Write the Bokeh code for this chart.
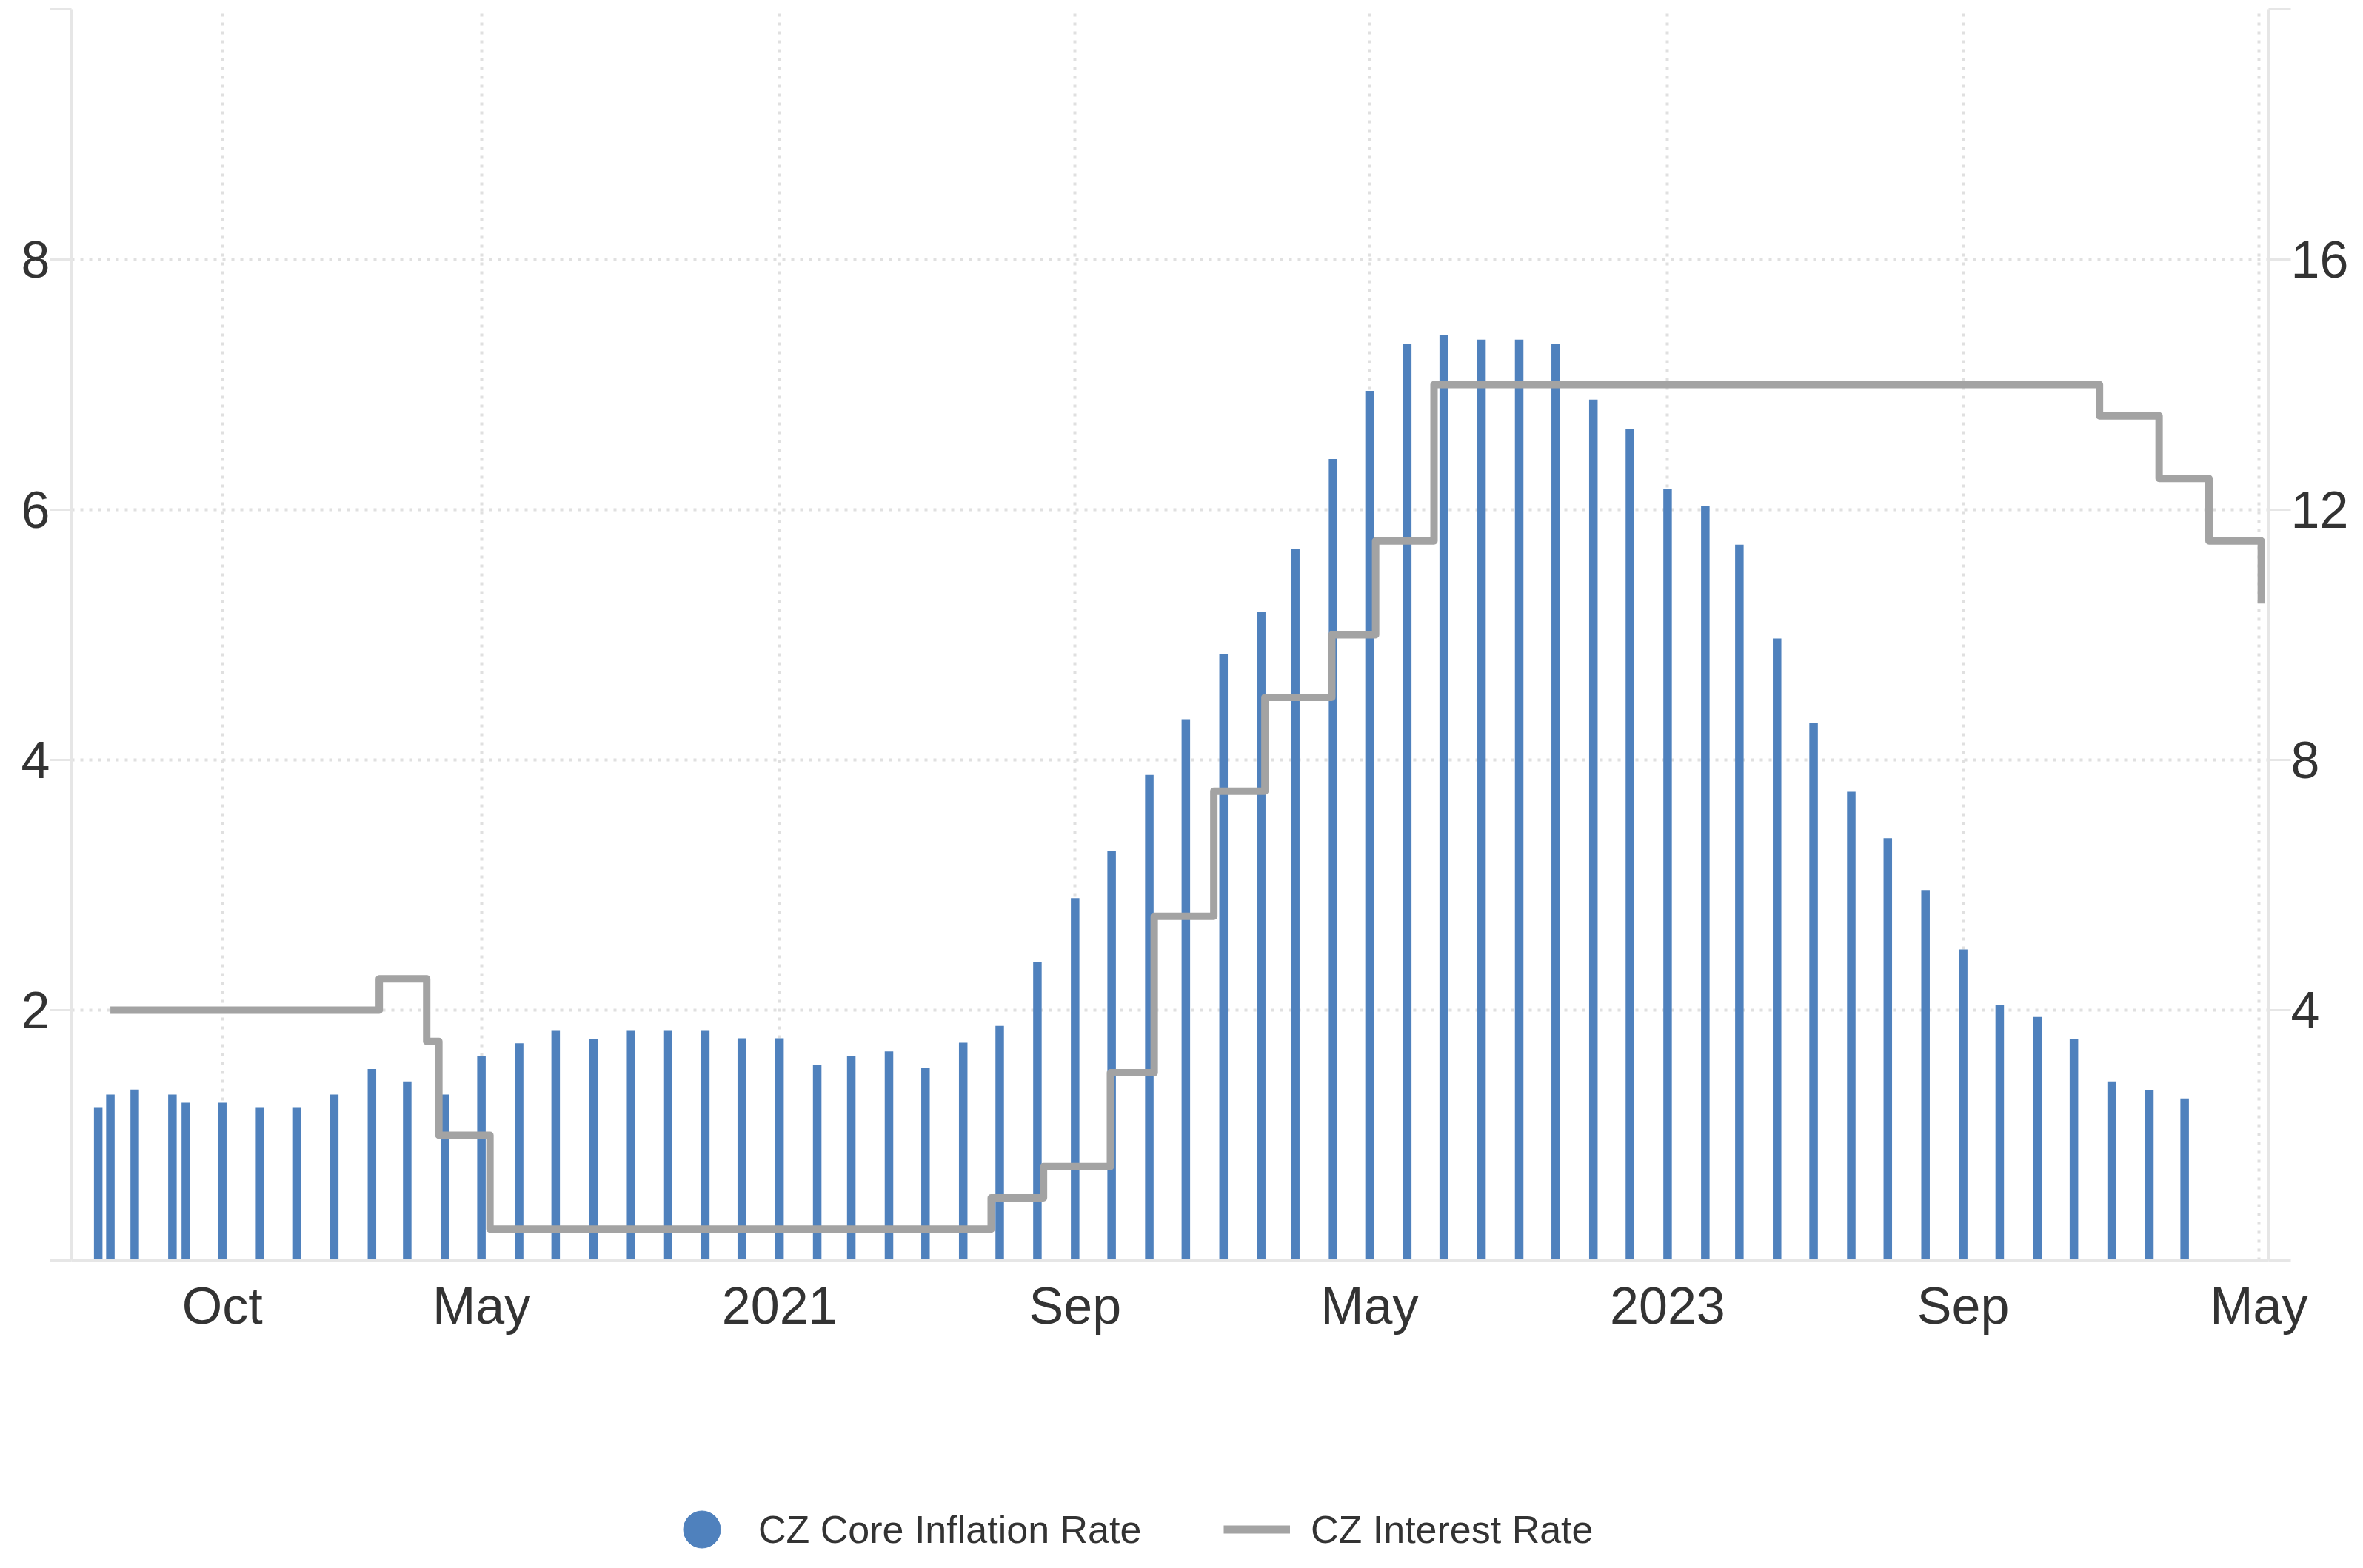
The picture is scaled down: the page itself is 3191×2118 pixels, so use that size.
import numpy as np
from bokeh.plotting import figure
from bokeh.layouts import column
from bokeh.models import Range1d, LinearAxis, FixedTicker, Legend, LegendItem
from bokeh.embed import file_html
from bokeh.resources import INLINE

# ---- data ----
core_dates = ["2019-06-21", "2019-07-01", "2019-07-21", "2019-08-21", "2019-09-01",
              "2019-10-01", "2019-11-01", "2019-12-01", "2020-01-01", "2020-02-01",
              "2020-03-01", "2020-04-01", "2020-05-01", "2020-06-01", "2020-07-01",
              "2020-08-01", "2020-09-01", "2020-10-01", "2020-11-01", "2020-12-01",
              "2021-01-01", "2021-02-01", "2021-03-01", "2021-04-01", "2021-05-01",
              "2021-06-01", "2021-07-01", "2021-08-01", "2021-09-01", "2021-10-01",
              "2021-11-01", "2021-12-01", "2022-01-01", "2022-02-01", "2022-03-01",
              "2022-04-01", "2022-05-01", "2022-06-01", "2022-07-01", "2022-08-01",
              "2022-09-01", "2022-10-01", "2022-11-01", "2022-12-01", "2023-01-01",
              "2023-02-01", "2023-03-01", "2023-04-01", "2023-05-01", "2023-06-01",
              "2023-07-01", "2023-08-01", "2023-09-01", "2023-10-01", "2023-11-01",
              "2023-12-01", "2024-01-01", "2024-02-01", "2024-03-01"]
core_values = [2.45, 2.65, 2.73, 2.65, 2.52,
               2.52, 2.45, 2.45, 2.65, 3.06,
               2.86, 2.65, 3.27, 3.47, 3.68,
               3.54, 3.68, 3.68, 3.68, 3.55,
               3.55, 3.13, 3.27, 3.34, 3.07,
               3.48, 3.75, 4.77, 5.79, 6.54,
               7.76, 8.65, 9.69, 10.37, 11.38,
               12.81, 13.9, 14.65, 14.79, 14.72,
               14.72, 14.65, 13.76, 13.29, 12.33,
               12.06, 11.44, 9.94, 8.59, 7.49,
               6.75, 5.92, 4.97, 4.09, 3.89,
               3.54, 2.86, 2.72, 2.59]

rate_dates = ["2019-07-01", "2020-02-07", "2020-03-17", "2020-03-27", "2020-05-08",
              "2021-06-24", "2021-08-06", "2021-09-30", "2021-11-05", "2021-12-24",
              "2022-02-04", "2022-03-31", "2022-05-06", "2022-06-23", "2023-12-22",
              "2024-02-09", "2024-03-21", "2024-05-03"]
rate_values = [2.00, 2.25, 1.75, 1.00, 0.25,
               0.50, 0.75, 1.50, 2.75, 3.75,
               4.50, 5.00, 5.75, 7.00, 6.75,
               6.25, 5.75, 5.25]

tick_dates = ["2019-10-01", "2020-05-01", "2021-01-01", "2021-09-01",
              "2022-05-01", "2023-01-01", "2023-09-01", "2024-05-01"]
tick_labels = ["Oct", "May", "2021", "Sep", "May", "2023", "Sep", "May"]

left_ticks = [0, 2, 4, 6, 8, 10]
right_ticks = [0, 4, 8, 12, 16, 20]

series_names = ["CZ Core Inflation Rate", "CZ Interest Rate"]


def ms(s):
    return float((np.datetime64(s, "ms") - np.datetime64("1970-01-01", "ms")).astype(np.int64))


BLUE = "#4f81bd"
GRAY = "#a3a3a3"
GRID = "#e0e0e0"
AXIS = "#e6e6e6"
TEXT = "#333333"
FONT = "Liberation Sans"

W = 3175
H_MAIN = 1830
H_LEG = 272
B_LEFT = 96
B_RIGHT = 112

p = figure(width=W, height=H_MAIN, x_axis_type="datetime",
           x_range=Range1d(ms("2019-05-30"), ms("2024-05-09")),
           y_range=Range1d(0, 10),
           output_backend="svg", toolbar_location=None,
           min_border_left=B_LEFT, min_border_right=B_RIGHT,
           min_border_top=12, min_border_bottom=H_MAIN - 12 - 1690)
p.extra_y_ranges = {"right": Range1d(0, 20)}
p.outline_line_color = None
p.background_fill_color = "white"
p.border_fill_color = "white"

# bars: core inflation on the right axis
p.vbar(x=[ms(d) for d in core_dates], top=core_values, bottom=0,
       width=7 * 86400000, y_range_name="right",
       fill_color=BLUE, line_color=None)

# interest rate step line on the left axis
p.step(x=[ms(d) for d in rate_dates], y=rate_values, mode="after",
       line_color=GRAY, line_width=10, line_join="round")

# x axis
xa = p.xaxis[0]
xa.ticker = FixedTicker(ticks=[ms(d) for d in tick_dates])
xa.major_label_overrides = {ms(d): lab for d, lab in zip(tick_dates, tick_labels)}
xa.axis_line_color = AXIS
xa.axis_line_width = 4
xa.major_tick_out = 0
xa.major_tick_in = 0
xa.minor_tick_out = 0
xa.minor_tick_in = 0
xa.major_label_standoff = 22
xa.major_label_text_font = FONT
xa.major_label_text_font_size = "70px"
xa.major_label_text_color = TEXT

# left axis
ya = p.yaxis[0]
ya.ticker = FixedTicker(ticks=left_ticks)
ya.major_label_overrides = {0: "", 10: ""}
ya.axis_line_color = AXIS
ya.axis_line_width = 4
ya.major_tick_line_color = AXIS
ya.major_tick_line_width = 3
ya.major_tick_out = 29
ya.major_tick_in = 0
ya.minor_tick_out = 0
ya.minor_tick_in = 0
ya.major_label_standoff = 0
ya.major_label_text_font = FONT
ya.major_label_text_font_size = "70px"
ya.major_label_text_color = TEXT

# right axis
ra = LinearAxis(y_range_name="right", ticker=FixedTicker(ticks=right_ticks))
ra.major_label_overrides = {0: "", 20: ""}
ra.axis_line_color = AXIS
ra.axis_line_width = 4
ra.major_tick_line_color = AXIS
ra.major_tick_line_width = 3
ra.major_tick_out = 30
ra.major_tick_in = 0
ra.minor_tick_out = 0
ra.minor_tick_in = 0
ra.major_label_standoff = 0
ra.major_label_text_font = FONT
ra.major_label_text_font_size = "70px"
ra.major_label_text_color = TEXT
p.add_layout(ra, "right")

# grids
for g in (p.xgrid[0], p.ygrid[0]):
    g.grid_line_color = GRID
    g.grid_line_width = 4
    g.grid_line_dash = "4 8"

# ---- legend strip (its own figure so nothing gets clipped) ----
lf = figure(width=W, height=H_LEG, x_range=Range1d(0, 1), y_range=Range1d(0, 1),
            output_backend="svg", toolbar_location=None,
            x_axis_location=None, y_axis_location=None,
            min_border_left=B_LEFT, min_border_right=B_RIGHT,
            min_border_top=0, min_border_bottom=0)
lf.outline_line_color = None
lf.xgrid.visible = False
lf.ygrid.visible = False
lf.background_fill_color = "white"
lf.border_fill_color = "white"

# legend-only renderers: their single point lies outside the strip's view
dummy_c = lf.scatter(x=[5], y=[5], marker="circle", fill_color=BLUE, line_color=BLUE)
dummy_l = lf.line(x=[5, 6], y=[5, 5], line_color=GRAY, line_width=11)

common = dict(border_line_color=None, background_fill_alpha=0, padding=0, margin=0,
              spacing=0, label_text_font=FONT, label_text_font_size="52px",
              label_text_color=TEXT, glyph_height=125)
leg1 = Legend(items=[LegendItem(label=series_names[0], renderers=[dummy_c])],
              location=(885 - B_LEFT, -26), glyph_width=125, label_standoff=14, **common)
leg2 = Legend(items=[LegendItem(label=series_names[1], renderers=[dummy_l])],
              location=(1652 - B_LEFT, -26), glyph_width=90, label_standoff=28, **common)
lf.add_layout(leg1)
lf.add_layout(leg2)

layout = column(p, lf, spacing=0)
open("out.html", "w").write(file_html(layout, INLINE))
